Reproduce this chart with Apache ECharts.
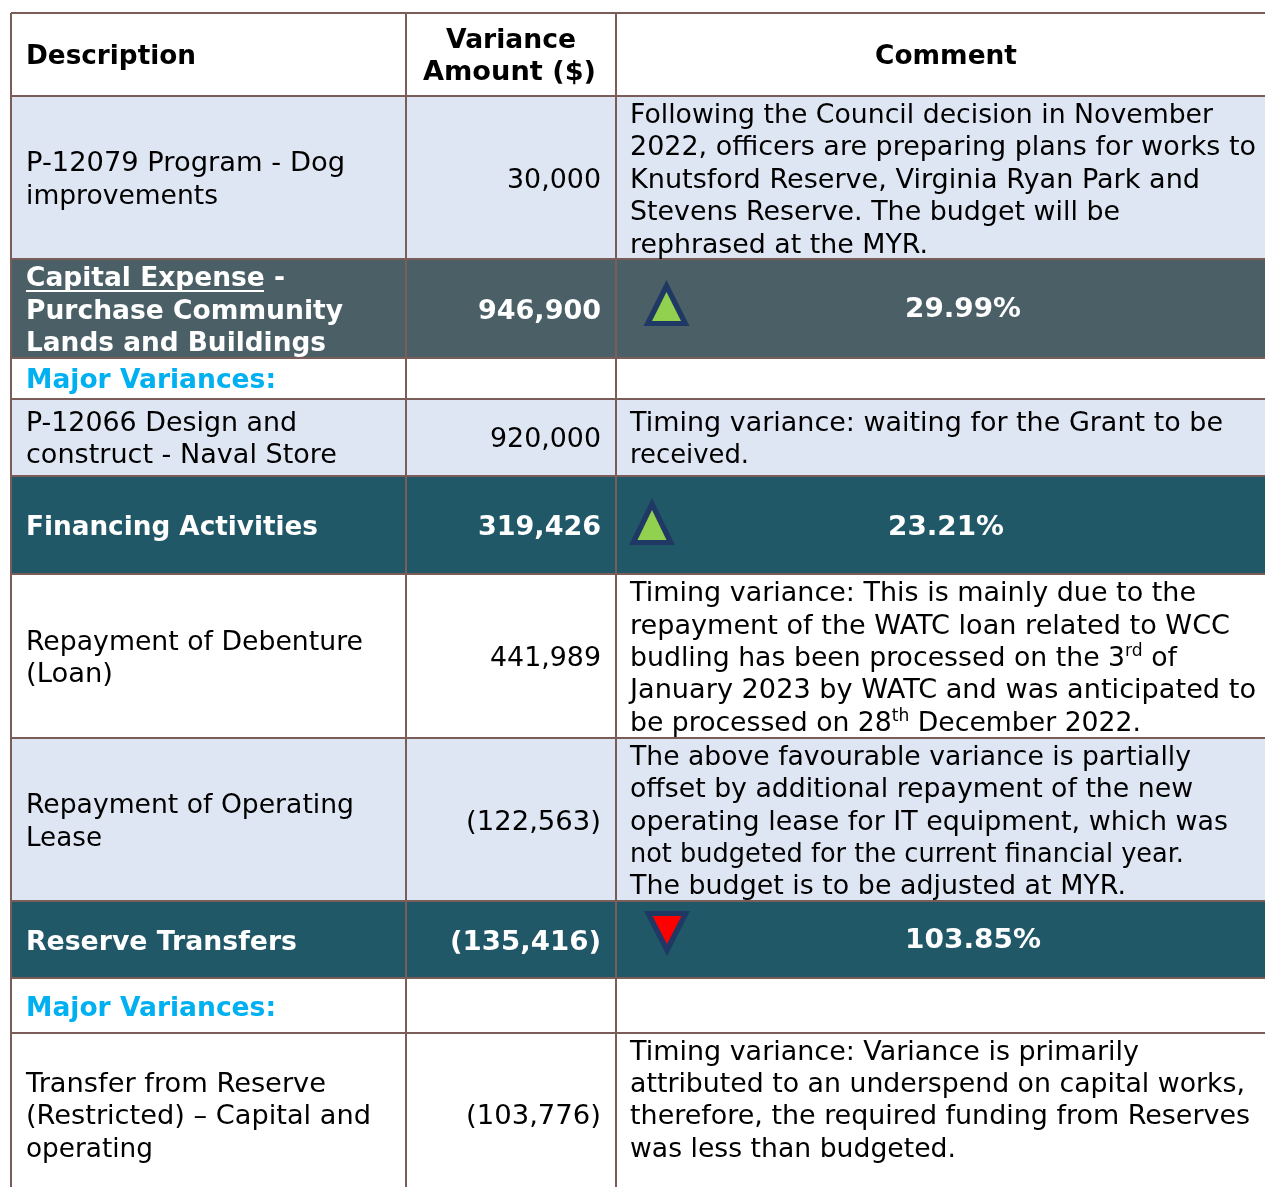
<!DOCTYPE html>
<html><head><meta charset="utf-8">
<script src="https://cdn.jsdelivr.net/npm/echarts@6/dist/echarts.min.js"></script>
<style>html,body{margin:0;padding:0;background:#fff}#c{width:1265px;height:1187px}</style></head>
<body><div id="c"></div>
<script>
// ---- table content ----
const headers = ["Description", "Variance\nAmount ($)", "Comment"];
const descriptions = [
  "P-12079 Program - Dog\nimprovements",
  "Capital Expense -\nPurchase Community\nLands and Buildings",
  "Major Variances:",
  "P-12066 Design and\nconstruct - Naval Store",
  "Financing Activities",
  "Repayment of Debenture\n(Loan)",
  "Repayment of Operating\nLease",
  "Reserve Transfers",
  "Major Variances:",
  "Transfer from Reserve\n(Restricted) \u2013 Capital and\noperating"
];
const amounts = ["30,000","946,900","","920,000","319,426","441,989","(122,563)","(135,416)","","(103,776)"];
const comments = [
  "Following the Council decision in November\n2022, officers are preparing plans for works to\nKnutsford Reserve, Virginia Ryan Park and\nStevens Reserve. The budget will be\nrephrased at the MYR.",
  "29.99%",
  "",
  "Timing variance: waiting for the Grant to be\nreceived.",
  "23.21%",
  "Timing variance: This is mainly due to the\nrepayment of the WATC loan related to WCC\nbudling has been processed on the 3^rd^ of\nJanuary 2023 by WATC and was anticipated to\nbe processed on 28^th^ December 2022.",
  "The above favourable variance is partially\noffset by additional repayment of the new\noperating lease for IT equipment, which was\nnot budgeted for the current financial year.\nThe budget is to be adjusted at MYR.",
  "103.85%",
  "",
  "Timing variance: Variance is primarily\nattributed to an underspend on capital works,\ntherefore, the required funding from Reserves\nwas less than budgeted."
];
const rowKinds = ["light","dark1","blank","light","dark2","white","light","dark2","blank","white"];
const trend = [null,"up",null,null,"up",null,null,"down",null,null];

// ---- layout and style ----
const FONT = '"DejaVu Sans"';
const SIZE = 26.5, SUP = 17, SUP_RISE = 7, TEXT_DY = 1;
const colX = [11, 406, 616, 1265];
const rowY = [13, 96, 259, 358, 399, 476, 574, 738, 901, 978, 1033, 1187];
const fills = {white:"#ffffff", blank:"#ffffff", light:"#dfe6f3", dark1:"#4a5f66", dark2:"#215868"};
const BORDER = "#7a5c58";
// per-line [left, right, middle] boxes for text, per table row (header first) and column
const boxes = [
  [[[26,196,56]], [[446,576,40],[423,596,72]], [[875,1017,56]]],
  [[[26,345,163],[26,218,196]], [[507,601,180]], [[630,1213,115],[630,1256,147],[630,1200,180],[630,1120,212],[630,928,245]]],
  [[[26,285,278],[26,343,311],[26,326,343]], [[478,601,311]], [[905,1021,309]]],
  [[[26,276,380]], [], []],
  [[[26,297,423],[26,337,455]], [[490,601,439]], [[630,1223,423],[630,749,455]]],
  [[[26,318,527]], [[478,601,527]], [[888,1004,527]]],
  [[[26,363,642],[26,113,674]], [[490,601,658]], [[630,1196,593],[630,1230,626],[630,1177,658],[630,1256,690],[630,1141,723]]],
  [[[26,354,805],[26,102,838]], [[466,601,822]], [[630,1191,757],[630,1193,789],[630,1228,822],[630,1184,854],[630,1126,886]]],
  [[[26,297,942]], [[450,601,942]], [[905,1041,940]]],
  [[[26,276,1008]], [], []],
  [[[26,326,1084],[26,371,1116],[26,153,1149]], [[466,601,1116]], [[630,1139,1052],[630,1245,1084],[630,1250,1116],[630,956,1149]]]
];
const triangles = {1:{x:666.5, apex:280, base:326}, 4:{x:652, apex:498, base:545}, 7:{x:667, apex:956, base:911}};
const underline = [26, 264, 291];

const ctx = document.createElement("canvas").getContext("2d");
function fontOf(bold, sup) { return (bold ? "bold " : "") + (sup ? SUP : SIZE) + "px " + FONT; }
function partsOf(str) { return str.split("^").map((text, i) => ({text, sup: i % 2 === 1})); }
function widthOf(p, bold) { ctx.font = fontOf(bold, p.sup); return ctx.measureText(p.text).width; }

const items = [];
function addCell(r, c, str, color, bold) {
  if (!str) return;
  str.split("\n").forEach((line, k) => items.push({line, color, bold, b: boxes[r][c][k]}));
}
headers.forEach((h, c) => addCell(0, c, h, "#000000", true));
descriptions.forEach((d, i) => {
  const k = rowKinds[i], dark = k === "dark1" || k === "dark2";
  addCell(i+1, 0, d, k === "blank" ? "#00b0f0" : dark ? "#ffffff" : "#000000", dark || k === "blank");
  addCell(i+1, 1, amounts[i], dark ? "#ffffff" : "#000000", dark);
  addCell(i+1, 2, comments[i], dark ? "#ffffff" : "#000000", dark);
});

const cellData = [];
for (let r = 0; r < rowY.length - 1; r++)
  for (let c = 0; c < 3; c++)
    cellData.push([colX[c], colX[c+1], rowY[r], rowY[r+1], r]);

const ruleData = [];
colX.slice(0, 3).forEach(x => ruleData.push([x, rowY[0], x, rowY[rowY.length-1]]));
rowY.slice(0, -1).forEach(y => ruleData.push([colX[0], y, colX[3], y]));

const triData = trend.map((t, i) => t ? [triangles[i].x, triangles[i].apex, triangles[i].base, i] : null).filter(Boolean);

const chart = echarts.init(document.getElementById("c"), null, {renderer:"canvas"});
chart.setOption({
  animation:false,
  grid:{left:0,right:0,top:0,bottom:0},
  xAxis:{type:"value",min:0,max:1265,show:false},
  yAxis:{type:"value",min:0,max:1187,inverse:true,show:false},
  series:[
    {type:"custom",data:cellData,silent:true,clip:false,z:1,renderItem(p,api){
      const a = api.coord([api.value(0),api.value(2)]), b = api.coord([api.value(1),api.value(3)]);
      const r = api.value(4);
      return {type:"rect",shape:{x:a[0],y:a[1],width:b[0]-a[0],height:b[1]-a[1]},
        style:{fill:fills[r===0?"white":rowKinds[r-1]]}};
    }},
    {type:"custom",data:triData,silent:true,clip:false,z:2,renderItem(p,api){
      const i = api.value(3), t = trend[i];
      const ap = api.coord([api.value(0),api.value(1)]), bs = api.coord([api.value(0),api.value(2)]);
      const s = t === "up" ? 1 : -1;
      return {type:"group",children:[
        {type:"polygon",shape:{points:[[ap[0],ap[1]],[ap[0]-23,bs[1]],[ap[0]+23,bs[1]]]},style:{fill:"#1f3864"}},
        {type:"polygon",shape:{points:[[ap[0],ap[1]+12*s],[ap[0]-14.5,bs[1]-5*s],[ap[0]+14.5,bs[1]-5*s]]},style:{fill:t==="up"?"#92d050":"#ff0000"}}
      ]};
    }},
    {type:"custom",data:ruleData,silent:true,clip:false,z:3,renderItem(p,api){
      const a = api.coord([api.value(0),api.value(1)]), b = api.coord([api.value(2),api.value(3)]);
      return {type:"line",shape:{x1:a[0],y1:a[1],x2:b[0],y2:b[1]},style:{stroke:BORDER,lineWidth:2}};
    }},
    {type:"custom",data:items.map((it,i)=>[it.b[0],it.b[2],i]),silent:true,clip:false,z:4,renderItem(p,api){
      const it = items[api.value(2)];
      const pos = api.coord([api.value(0),api.value(1)]);
      const parts = partsOf(it.line);
      const total = parts.reduce((w,q)=>w+widthOf(q,it.bold),0);
      const scale = (it.b[1]-it.b[0])/total;
      let cx = pos[0];
      const kids = parts.map(q => {
        const el = {type:"text",x:cx,y:pos[1]+TEXT_DY-(q.sup?SUP_RISE:0),scaleX:scale,style:{
          text:q.text,x:0,y:0,align:"left",verticalAlign:"middle",fill:it.color,font:fontOf(it.bold,q.sup)
        }};
        cx += widthOf(q,it.bold)*scale;
        return el;
      });
      if (it.line.indexOf("Capital Expense") === 0)
        kids.push({type:"line",shape:{x1:underline[0],y1:underline[2],x2:underline[1],y2:underline[2]},style:{stroke:"#fff",lineWidth:2}});
      return {type:"group",children:kids};
    }}
  ]
});
</script></body></html>
